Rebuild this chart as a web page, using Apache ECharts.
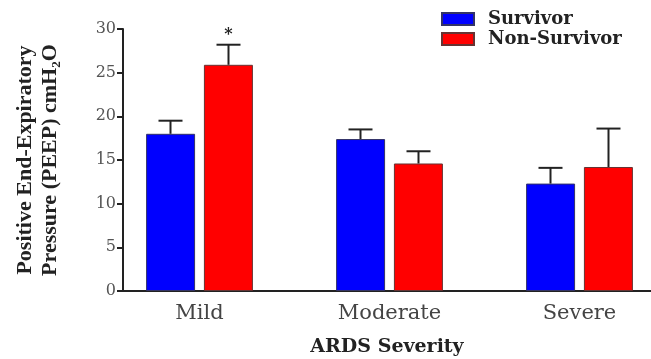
<!DOCTYPE html>
<html>
<head>
<meta charset="utf-8">
<script src="https://cdn.jsdelivr.net/npm/echarts@6/dist/echarts.min.js"></script>
<style>html,body{margin:0;padding:0;background:#fff}#c{width:651px;height:359px}</style>
</head>
<body>
<div id="c"></div>
<script>
// Data
const categories = ['Mild', 'Moderate', 'Severe'];
const seriesNames = ['Survivor', 'Non-Survivor'];
const survivorMean = [18.0, 17.4, 12.3];
const survivorErrTop = [19.5, 18.5, 14.1];
const nonSurvivorMean = [25.9, 14.6, 14.2];
const nonSurvivorErrTop = [28.2, 16.0, 18.6];
const nonSurvivorMarks = ['*', '', ''];
const yTicks = [0, 5, 10, 15, 20, 25, 30];

const chart = echarts.init(document.getElementById('c'));
const serif = 'DejaVu Serif';
const idx = categories.map((_, i) => i);

function barData(vals) { return vals.map((v, i) => [i, v]); }
function errData(mean, top, marks) { return mean.map((v, i) => [i, v, top[i], marks ? marks[i] : '']); }

function errRender(offset) {
  return function (params, api) {
    const x = api.value(0), m = api.value(1), t = api.value(2), mark = api.value(3);
    const pm = api.coord([x, m]);
    const pt = api.coord([x, t]);
    const cx = pm[0] + offset;
    const style = { stroke: '#222', lineWidth: 2 };
    const children = [
      { type: 'line', shape: { x1: cx, y1: pm[1], x2: cx, y2: pt[1] }, style },
      { type: 'line', shape: { x1: cx - 12, y1: pt[1], x2: cx + 12, y2: pt[1] }, style }
    ];
    if (mark) {
      children.push({ type: 'text', style: { text: mark, x: cx, y: pt[1] - 2, align: 'center', verticalAlign: 'bottom', font: 'bold 16px "DejaVu Serif"', fill: '#222' } });
    }
    return { type: 'group', children };
  };
}

chart.setOption({
  animation: false,
  grid: { left: 123, right: 0, top: 29, bottom: 68, outerBoundsMode: 'none', containLabel: false },
  legend: {
    orient: 'vertical', left: 441, top: 10, padding: 0, itemWidth: 32, itemHeight: 12, itemGap: 2,
    icon: 'rect',
    data: seriesNames,
    textStyle: { fontFamily: serif, fontWeight: 'bold', fontSize: 18, color: '#222', padding: [0, 0, 0, 9] }
  },
  xAxis: {
    type: 'value',
    min: (123 - 199.5) / 190, max: (651 - 199.5) / 190,
    name: 'ARDS Severity', nameLocation: 'middle', nameGap: 47,
    nameTextStyle: { fontFamily: serif, fontWeight: 'bold', fontSize: 19, color: '#222' },
    axisLine: { show: true, onZero: false, lineStyle: { color: '#222', width: 2 } },
    axisTick: { show: false },
    splitLine: { show: false },
    axisLabel: {
      customValues: idx,
      formatter: v => categories[Math.round(v)] || '',
      fontFamily: serif, fontSize: 21, color: '#444', margin: 12
    }
  },
  yAxis: {
    type: 'value', min: 0, max: 30, interval: 5,
    name: 'Positive End-Expiratory\nPressure (PEEP) cmH\u2082O',
    nameLocation: 'middle', nameGap: 60, nameRotate: 90,
    nameTextStyle: { fontFamily: 'Liberation Serif', fontWeight: 'bold', fontSize: 22, lineHeight: 25, color: '#222' },
    axisLine: { show: true, onZero: false, lineStyle: { color: '#222', width: 2 } },
    axisTick: { show: true, length: 6, lineStyle: { color: '#222', width: 2 } },
    splitLine: { show: false },
    axisLabel: { fontFamily: serif, fontSize: 16, color: '#555', margin: 7, formatter: v => yTicks.includes(v) ? String(v) : '' }
  },
  series: [
    { name: seriesNames[0], type: 'bar', data: barData(survivorMean), barWidth: 49, barGap: '18%',
      itemStyle: { color: '#0000ff', borderColor: '#333366', borderWidth: 1 } },
    { name: seriesNames[1], type: 'bar', data: barData(nonSurvivorMean), barWidth: 49, barGap: '18%',
      itemStyle: { color: '#ff0000', borderColor: '#663333', borderWidth: 1 } },
    { type: 'custom', renderItem: errRender(-29), data: errData(survivorMean, survivorErrTop), z: 3 },
    { type: 'custom', renderItem: errRender(29), data: errData(nonSurvivorMean, nonSurvivorErrTop, nonSurvivorMarks), z: 3 }
  ]
});
</script>
</body>
</html>
